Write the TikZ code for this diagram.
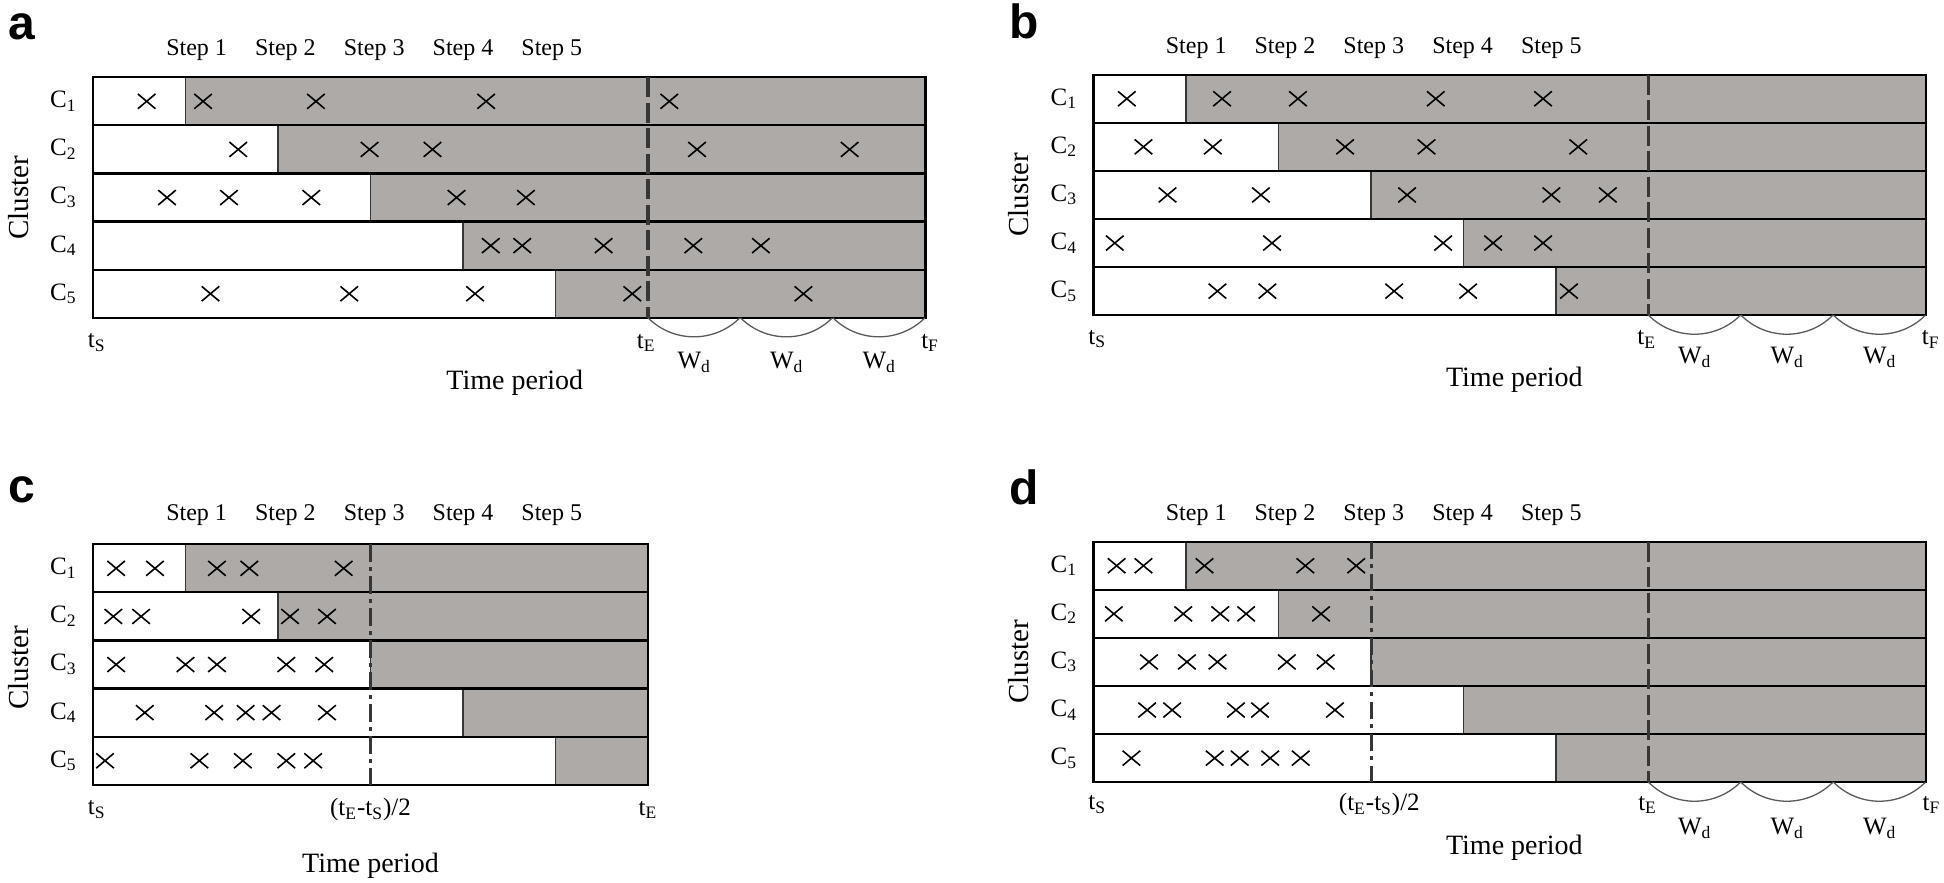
\documentclass[tikz,border=0pt]{standalone}
\usepackage{fontspec}
\setmainfont{Liberation Serif}
\newfontfamily\letraPanel{Liberation Sans}
\usepackage{xcolor}
\definecolor{grisCelda}{HTML}{ADAAA8}
\definecolor{grisCorte}{HTML}{363636}
\definecolor{grisArco}{HTML}{5A5A5A}

\tikzset{
  fila/.style={draw=black, line width=1.1pt},
  corte/.style={grisCorte, line width=0.65pt},
  finE/.style={grisCorte, line width=1.6pt, dash pattern=on 10pt off 2.75pt},
  mitad/.style={grisCorte, line width=1.5pt,
    dash pattern=on 8.8pt off 2.6pt on 2pt off 2.6pt},
  ventana/.style={grisArco, line width=0.65pt},
  cruz/.pic={\draw[line width=0.8pt]
    (-4.4pt,-3.7pt) -- (4.4pt,3.7pt) (-4.4pt,3.7pt) -- (4.4pt,-3.7pt);},
  paso/.style={font=\fontsize{12}{14}\selectfont},
  etiq/.style={font=\fontsize{12.5}{14}\selectfont},
  eje/.style={font=\fontsize{14}{16}\selectfont},
  letra/.style={font=\fontsize{24}{26}\selectfont\letraPanel\bfseries,
    anchor=base west},
}

\begin{document}
\begin{tikzpicture}[x=0.5pt, y=0.5pt]

  \useasboundingbox (0,0) rectangle (1944,883);

  % ── Panel a ───────────────────────────────────────────────
  \begin{scope}[shift={(46.5pt,402.85pt)}, x=46.25pt, y=24.05pt]
    \foreach \r in {1,...,5}{
      \fill[grisCelda] (\r,1-\r) rectangle (9,-\r);
      \draw[corte] (\r,1-\r) -- (\r,-\r);
      \draw[fila] (0,1-\r) rectangle (9,-\r);
    }
    \draw[finE] (6,0) -- (6,-5);
    \foreach \r/\lista in {
        1/{0.58,1.19,2.41,4.25,6.23}, 2/{1.57,2.99,3.67,6.53,8.18},
        3/{0.80,1.47,2.36,3.93,4.68}, 4/{4.30,4.64,5.52,6.49,7.22},
        5/{1.27,2.77,4.13,5.83,7.68}}{
      \foreach \x in \lista \pic at (\x,0.5-\r) {cruz};
    }
    \foreach \k in {6,7,8}
      \draw[ventana] (\k,-5) arc[start angle=225, end angle=315, radius=32.5pt];

    \node[letra] (a-letra) at (-0.99,0.79) {a};
    \foreach \k in {1,...,5}
      \node[paso] (a-paso\k) at ({0.16+0.96*\k},0.57) {Step \k};
    \foreach \r in {1,...,5}
      \node[etiq] (a-c\r) at (-0.32,0.5-\r) {C\textsubscript{\r}};
    \node[font=\fontsize{14.5}{16}\selectfont, rotate=90] (a-eje) at (-0.805,-2.5) {Cluster};
    \node[etiq] (a-ts) at (0.04,-5.52) {t\textsubscript{S}};
    \node[etiq] (a-te) at (5.98,-5.52) {t\textsubscript{E}};
    \node[etiq] (a-tf) at (9.05,-5.52) {t\textsubscript{F}};
    \foreach \k in {1,2,3}
      \node[etiq] (a-w\k) at ({5.5+\k},-5.92) {W\textsubscript{d}};
    \node[eje] (a-tiempo) at (4.56,-6.36) {Time period};
  \end{scope}

  % ── Panel b ───────────────────────────────────────────────
  \begin{scope}[shift={(546.75pt,404.15pt)}, x=46.25pt, y=24.05pt]
    \foreach \r in {1,...,5}{
      \fill[grisCelda] (\r,1-\r) rectangle (9,-\r);
      \draw[corte] (\r,1-\r) -- (\r,-\r);
      \draw[fila] (0,1-\r) rectangle (9,-\r);
    }
    \draw[finE] (6,0) -- (6,-5);
    \foreach \r/\lista in {
        1/{0.36,1.39,2.21,3.70,4.86}, 2/{0.54,1.29,2.72,3.60,5.24},
        3/{0.80,1.81,3.39,4.95,5.56}, 4/{0.23,1.93,3.78,4.32,4.86},
        5/{1.34,1.88,3.25,4.05,5.14}}{
      \foreach \x in \lista \pic at (\x,0.5-\r) {cruz};
    }
    \foreach \k in {6,7,8}
      \draw[ventana] (\k,-5) arc[start angle=225, end angle=315, radius=32.5pt];

    \node[letra] (b-letra) at (-0.99,0.76) {b};
    \foreach \k in {1,...,5}
      \node[paso] (b-paso\k) at ({0.15+0.96*\k},0.56) {Step \k};
    \foreach \r in {1,...,5}
      \node[etiq] (b-c\r) at (-0.32,0.5-\r) {C\textsubscript{\r}};
    \node[font=\fontsize{14.5}{16}\selectfont, rotate=90] (b-eje) at (-0.805,-2.5) {Cluster};
    \node[etiq] (b-ts) at (0.04,-5.5) {t\textsubscript{S}};
    \node[etiq] (b-te) at (5.98,-5.5) {t\textsubscript{E}};
    \node[etiq] (b-tf) at (9.05,-5.5) {t\textsubscript{F}};
    \foreach \k in {1,2,3}
      \node[etiq] (b-w\k) at ({5.5+\k},-5.88) {W\textsubscript{d}};
    \node[eje] (b-tiempo) at (4.55,-6.34) {Time period};
  \end{scope}

  % ── Panel c ───────────────────────────────────────────────
  \begin{scope}[shift={(46.5pt,169.35pt)}, x=46.25pt, y=24.05pt]
    \foreach \r in {1,...,5}{
      \fill[grisCelda] (\r,1-\r) rectangle (6,-\r);
      \draw[corte] (\r,1-\r) -- (\r,-\r);
      \draw[fila] (0,1-\r) rectangle (6,-\r);
    }
    \draw[mitad] (3,0) -- (3,-5);
    \foreach \r/\lista in {
        1/{0.25,0.67,1.34,1.69,2.71}, 2/{0.22,0.52,1.71,2.13,2.53},
        3/{0.25,1.00,1.34,2.09,2.50}, 4/{0.56,1.31,1.65,1.93,2.53},
        5/{0.13,1.15,1.62,2.09,2.38}}{
      \foreach \x in \lista \pic at (\x,0.5-\r) {cruz};
    }

    \node[letra] (c-letra) at (-0.99,0.86) {c};
    \foreach \k in {1,...,5}
      \node[paso] (c-paso\k) at ({0.16+0.96*\k},0.61) {Step \k};
    \foreach \r in {1,...,5}
      \node[etiq] (c-c\r) at (-0.32,0.5-\r) {C\textsubscript{\r}};
    \node[font=\fontsize{14.5}{16}\selectfont, rotate=90] (c-eje) at (-0.805,-2.57) {Cluster};
    \node[etiq] (c-ts) at (0.04,-5.52) {t\textsubscript{S}};
    \node[etiq] (c-mitad) at (3,-5.52) {(t\textsubscript{E}-t\textsubscript{S})/2};
    \node[etiq] (c-te) at (6,-5.52) {t\textsubscript{E}};
    \node[eje] (c-tiempo) at (3,-6.68) {Time period};
  \end{scope}

  % ── Panel d ───────────────────────────────────────────────
  \begin{scope}[shift={(546.75pt,170.65pt)}, x=46.25pt, y=24.05pt]
    \foreach \r in {1,...,5}{
      \fill[grisCelda] (\r,1-\r) rectangle (9,-\r);
      \draw[corte] (\r,1-\r) -- (\r,-\r);
      \draw[fila] (0,1-\r) rectangle (9,-\r);
    }
    \draw[mitad] (3,0) -- (3,-5);
    \draw[finE] (6,0) -- (6,-5);
    \foreach \r/\lista in {
        1/{0.25,0.54,1.20,2.29,2.84}, 2/{0.22,0.97,1.37,1.65,2.46},
        3/{0.60,1.01,1.34,2.09,2.51}, 4/{0.58,0.85,1.54,1.80,2.61},
        5/{0.41,1.31,1.58,1.91,2.24}}{
      \foreach \x in \lista \pic at (\x,0.5-\r) {cruz};
    }
    \foreach \k in {6,7,8}
      \draw[ventana] (\k,-5) arc[start angle=225, end angle=315, radius=32.5pt];

    \node[letra] (d-letra) at (-0.99,0.78) {d};
    \foreach \k in {1,...,5}
      \node[paso] (d-paso\k) at ({0.15+0.96*\k},0.56) {Step \k};
    \foreach \r in {1,...,5}
      \node[etiq] (d-c\r) at (-0.32,0.5-\r) {C\textsubscript{\r}};
    \node[font=\fontsize{14.5}{16}\selectfont, rotate=90] (d-eje) at (-0.805,-2.5) {Cluster};
    \node[etiq] (d-ts) at (0.04,-5.47) {t\textsubscript{S}};
    \node[etiq] (d-mitad) at (3.09,-5.47) {(t\textsubscript{E}-t\textsubscript{S})/2};
    \node[etiq] (d-te) at (5.99,-5.47) {t\textsubscript{E}};
    \node[etiq] (d-tf) at (9.06,-5.47) {t\textsubscript{F}};
    \foreach \k in {1,2,3}
      \node[etiq] (d-w\k) at ({5.5+\k},-5.96) {W\textsubscript{d}};
    \node[eje] (d-tiempo) at (4.55,-6.37) {Time period};
  \end{scope}

\end{tikzpicture}
\end{document}
